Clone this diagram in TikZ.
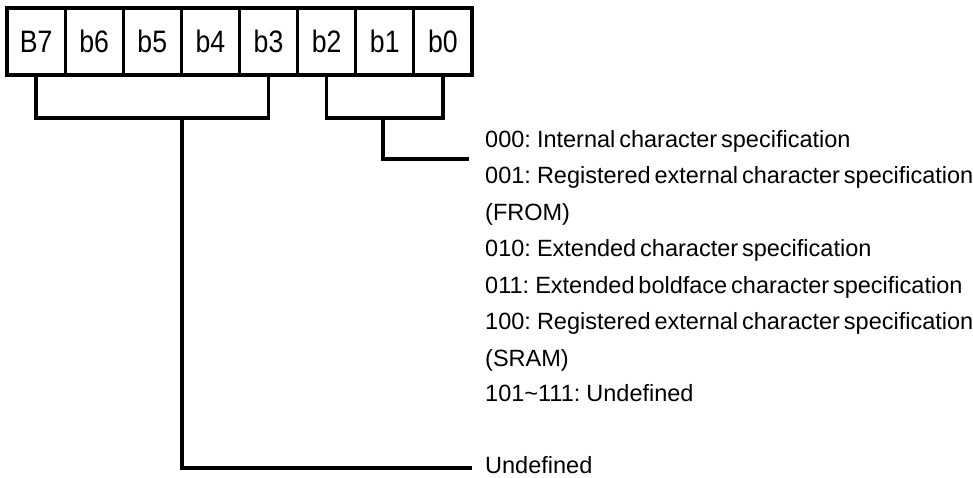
\documentclass[tikz,border=0pt]{standalone}
\usepackage{fontspec}
\setmainfont[WordSpace=0.6]{Liberation Sans}
\newfontfamily\bitfont[FakeStretch=0.86]{Liberation Sans}
\begin{document}
\begin{tikzpicture}[x=1pt,y=-1pt,
  wire/.style={line width=3.2pt},
  bitcell/.style={draw, line width=3.2pt, minimum width=58.125pt, minimum height=67pt,
    inner sep=0pt, font=\bitfont\fontsize{31}{31}\selectfont},
  item/.style={anchor=base west, inner sep=0pt, font=\fontsize{23.5}{23.5}\selectfont}]
\useasboundingbox (0,0) rectangle (973,477);

% the eight bit cells of the byte
\foreach \lab/\nm [count=\i from 0] in {B7/c7,b6/c6,b5/c5,b4/c4,b3/c3,b2/c2,b1/c1,b0/c0}
  \node[bitcell] (\nm) at ({7+58.125*(\i+0.5)},41.5) {\lab};

% value list for b2..b0
\node[item] (v0) at (485,147) {000: Internal character specification};
\node[item] (v1) at (485,183.5) {001: Registered external character specification};
\node[item] (v1b) at (485,220) {(FROM)};
\node[item] (v2) at (485,256.5) {010: Extended character specification};
\node[item] (v3) at (485,293) {011: Extended boldface character specification};
\node[item] (v4) at (485,329.5) {100: Registered external character specification};
\node[item] (v4b) at (485,366) {(SRAM)};
\node[item] (v5) at (485,401) {101\textasciitilde111: Undefined};
\node[item] (undef) at (485,473) {Undefined};

% bracket joining b7..b3
\coordinate (lbar) at (182,118);
\coordinate (lend) at (472,468);
\draw[wire] (c7.south) |- (lbar) -| (c3.south);
\draw[wire] (lbar) |- (lend);

% bracket joining b2..b0
\coordinate (rbar) at (383,118);
\coordinate (rend) at (469,159);
\draw[wire] (c2.south) |- (rbar) -| (c0.south);
\draw[wire] (rbar) |- (rend);
\end{tikzpicture}
\end{document}
